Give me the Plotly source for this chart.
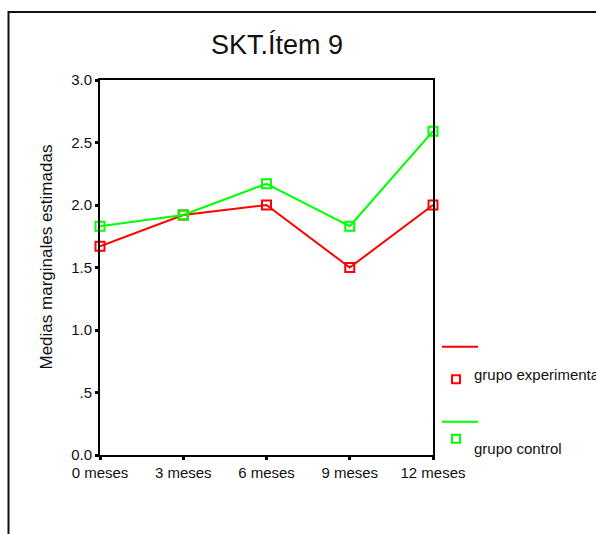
import plotly.graph_objects as go

# Estimated marginal means per time point and group
meses = ["0 meses", "3 meses", "6 meses", "9 meses", "12 meses"]
grupo_experimental = [1.67, 1.92, 2.00, 1.50, 2.00]
grupo_control = [1.83, 1.92, 2.17, 1.83, 2.59]
nombres = ["grupo experimental", "grupo control"]
colores = ["#ff0000", "#00ff00"]
y_ticks = [0.0, 0.5, 1.0, 1.5, 2.0, 2.5, 3.0]
y_tick_labels = ["0.0", ".5", "1.0", "1.5", "2.0", "2.5", "3.0"]

W, H = 596, 534
L, R, T, B = 100, 433, 80, 455  # plot area in pixels


def px(x):
    return (x - L) / (R - L)


def py(y):
    return (B - y) / (B - T)


FONT = "Arial, Liberation Sans, sans-serif"

fig = go.Figure()
for name, vals, col in zip(nombres, [grupo_experimental, grupo_control], colores):
    fig.add_trace(go.Scatter(
        x=meses, y=vals, name=name, mode="lines+markers",
        line=dict(color=col, width=2),
        marker=dict(symbol="square-open", size=9, color=col, line=dict(width=2, color=col)),
        cliponaxis=False, showlegend=False,
    ))

shapes = [
    # outer frame
    dict(type="rect", xref="paper", yref="paper",
         x0=px(8.5), x1=px(620), y0=py(560), y1=py(12),
         line=dict(color="#111", width=2), layer="below"),
]
annotations = [
    dict(text="SKT.Ítem 9", xref="paper", yref="paper", x=px(277), y=py(45),
         xanchor="center", yanchor="middle", showarrow=False,
         font=dict(family=FONT, size=27, color="#111")),
    dict(text="Medias marginales estimadas", xref="paper", yref="paper",
         x=px(45.5), y=py(257), textangle=-90, xanchor="center", yanchor="middle",
         showarrow=False, font=dict(family=FONT, size=17, color="#111")),
]

# hand-placed legend: line sample, marker sample, label
legend_rows = [(346.7, 379.3, 374), (421.7, 438.7, 448)]
for name, col, (ly, my, ty) in zip(nombres, colores, legend_rows):
    shapes.append(dict(type="line", xref="paper", yref="paper",
                       x0=px(442), x1=px(478), y0=py(ly), y1=py(ly),
                       line=dict(color=col, width=2)))
    shapes.append(dict(type="rect", xref="paper", yref="paper",
                       x0=px(452), x1=px(460), y0=py(my + 4), y1=py(my - 4),
                       line=dict(color=col, width=2)))
    annotations.append(dict(text=name, xref="paper", yref="paper",
                            x=px(471.5), y=py(ty), xanchor="left", yanchor="middle",
                            showarrow=False,
                            font=dict(family=FONT, size=15, color="#111")))

fig.update_layout(
    width=W, height=H,
    margin=dict(l=L, r=W - R, t=T, b=H - B, pad=0),
    paper_bgcolor="white", plot_bgcolor="white",
    shapes=shapes, annotations=annotations,
    font=dict(family=FONT, size=15, color="#111"),
    xaxis=dict(type="category", range=[0, 4], showgrid=False, zeroline=False,
               showline=True, linecolor="black", linewidth=2, mirror=True,
               ticks="outside", ticklen=3, tickwidth=3, tickcolor="black",
               tickfont=dict(family=FONT, size=15, color="#111")),
    yaxis=dict(range=[0, 3], showgrid=False, zeroline=False,
               tickvals=y_ticks, ticktext=y_tick_labels,
               showline=True, linecolor="black", linewidth=2, mirror=True,
               ticks="outside", ticklen=3, tickwidth=3, tickcolor="black",
               tickfont=dict(family=FONT, size=15, color="#111")),
)

fig.write_html("out.html")
